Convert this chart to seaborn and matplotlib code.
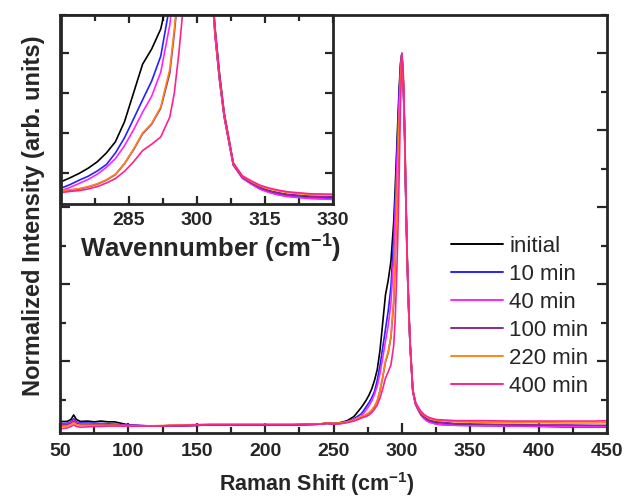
import numpy as np
import pandas as pd
import matplotlib
matplotlib.use("Agg")
import matplotlib.pyplot as plt
from matplotlib.ticker import MultipleLocator, NullFormatter
import seaborn as sns

# ---------------- data ----------------
wavenumber = [50, 55, 58, 60, 62, 65, 70, 75, 80, 85, 90, 95, 100,
              110, 120, 130, 140, 150, 160, 170, 180, 190, 200, 210, 220, 230, 240, 245,
              250, 255, 260, 265,
              270, 272, 274, 276, 278, 280, 282, 284, 286, 288, 290, 292, 294,
              295, 296, 297, 298, 299, 300, 301, 302, 303, 304, 305, 306,
              308, 310, 312, 314, 316, 318, 320, 325, 330,
              340, 360, 380, 400, 420, 440, 450]

initial = [0.043, 0.043, 0.048, 0.060, 0.048, 0.043, 0.044, 0.042, 0.044, 0.042, 0.042, 0.038, 0.034,
           0.032, 0.031, 0.032, 0.032, 0.033, 0.034, 0.034, 0.034, 0.034, 0.034, 0.034, 0.034, 0.035, 0.036, 0.039,
           0.038, 0.040, 0.045, 0.056,
           0.078, 0.088, 0.099, 0.112, 0.128, 0.150, 0.178, 0.228, 0.300, 0.372, 0.410, 0.460, 0.560,
           0.640, 0.730, 0.820, 0.910, 0.975, 1.000, 0.930, 0.800, 0.610, 0.460, 0.345, 0.250,
           0.125, 0.090, 0.075, 0.063, 0.055, 0.050, 0.046, 0.041, 0.040,
           0.036, 0.034, 0.032, 0.031, 0.030, 0.030, 0.030]

min10 = [0.038, 0.038, 0.042, 0.050, 0.042, 0.039, 0.039, 0.038, 0.038, 0.037, 0.036, 0.035, 0.033,
         0.032, 0.031, 0.032, 0.032, 0.033, 0.034, 0.034, 0.034, 0.034, 0.034, 0.034, 0.034, 0.035, 0.036, 0.038,
         0.037, 0.039, 0.043, 0.050,
         0.062, 0.071, 0.082, 0.092, 0.105, 0.121, 0.150, 0.188, 0.235, 0.283, 0.330, 0.392, 0.520,
         0.610, 0.700, 0.800, 0.890, 0.965, 1.000, 0.925, 0.790, 0.600, 0.445, 0.330, 0.240,
         0.120, 0.088, 0.073, 0.060, 0.052, 0.046, 0.042, 0.037, 0.035,
         0.033, 0.032, 0.031, 0.030, 0.029, 0.029, 0.029]

min40 = [0.035, 0.036, 0.040, 0.046, 0.040, 0.037, 0.037, 0.036, 0.036, 0.035, 0.035, 0.034, 0.033,
         0.032, 0.031, 0.032, 0.032, 0.033, 0.034, 0.034, 0.034, 0.034, 0.034, 0.034, 0.034, 0.035, 0.036, 0.038,
         0.037, 0.038, 0.042, 0.048,
         0.056, 0.064, 0.074, 0.084, 0.097, 0.114, 0.136, 0.168, 0.208, 0.252, 0.292, 0.352, 0.470,
         0.570, 0.670, 0.770, 0.870, 0.955, 1.000, 0.925, 0.790, 0.600, 0.440, 0.330, 0.240,
         0.120, 0.087, 0.072, 0.059, 0.051, 0.045, 0.041, 0.036, 0.034,
         0.033, 0.032, 0.031, 0.031, 0.030, 0.030, 0.030]

min100 = [0.033, 0.034, 0.038, 0.043, 0.038, 0.035, 0.035, 0.035, 0.035, 0.034, 0.034, 0.033, 0.032,
          0.031, 0.031, 0.032, 0.032, 0.033, 0.034, 0.034, 0.034, 0.034, 0.034, 0.034, 0.034, 0.035, 0.036, 0.038,
          0.037, 0.038, 0.041, 0.046,
          0.055, 0.057, 0.060, 0.065, 0.072, 0.082, 0.096, 0.123, 0.158, 0.198, 0.222, 0.262, 0.350,
          0.450, 0.570, 0.690, 0.810, 0.925, 1.000, 0.930, 0.795, 0.605, 0.445, 0.332, 0.242,
          0.122, 0.089, 0.075, 0.063, 0.055, 0.050, 0.046, 0.042, 0.040,
          0.037, 0.036, 0.035, 0.034, 0.034, 0.033, 0.033]

min220 = [0.030, 0.031, 0.035, 0.040, 0.035, 0.033, 0.033, 0.033, 0.033, 0.033, 0.033, 0.032, 0.032,
          0.031, 0.032, 0.033, 0.034, 0.035, 0.036, 0.036, 0.036, 0.036, 0.036, 0.036, 0.036, 0.037, 0.037, 0.039,
          0.038, 0.039, 0.042, 0.047,
          0.056, 0.058, 0.061, 0.066, 0.073, 0.083, 0.097, 0.124, 0.160, 0.200, 0.224, 0.265, 0.360,
          0.460, 0.580, 0.700, 0.820, 0.930, 1.000, 0.940, 0.810, 0.615, 0.450, 0.335, 0.245,
          0.124, 0.092, 0.078, 0.067, 0.060, 0.055, 0.051, 0.046, 0.045,
          0.042, 0.041, 0.040, 0.040, 0.039, 0.039, 0.040]

min400 = [0.024, 0.026, 0.030, 0.034, 0.030, 0.028, 0.029, 0.030, 0.030, 0.031, 0.031, 0.031, 0.031,
          0.031, 0.031, 0.032, 0.033, 0.034, 0.035, 0.035, 0.035, 0.035, 0.035, 0.035, 0.035, 0.036, 0.036, 0.038,
          0.036, 0.037, 0.040, 0.044,
          0.051, 0.054, 0.056, 0.060, 0.066, 0.075, 0.086, 0.104, 0.128, 0.156, 0.172, 0.190, 0.240,
          0.300, 0.400, 0.520, 0.680, 0.870, 1.000, 0.950, 0.820, 0.620, 0.455, 0.338, 0.248,
          0.125, 0.093, 0.080, 0.069, 0.062, 0.057, 0.053, 0.048, 0.047,
          0.045, 0.045, 0.044, 0.044, 0.044, 0.044, 0.045]

series_labels = ["initial", "10 min", "40 min", "100 min", "220 min", "400 min"]
series_values = [initial, min10, min40, min100, min220, min400]
series_colors = ["#000000", "#2222ff", "#ff22ff", "#8a2a8a", "#ff8418", "#ff2090"]

main_xticks = [50, 100, 150, 200, 250, 300, 350, 400, 450]
inset_xticks = [285, 300, 315, 330]

# ---------------- build table ----------------
frames = []
for lab, vals in zip(series_labels, series_values):
    frames.append(pd.DataFrame({"x": wavenumber, "y": vals, "series": lab}))
df = pd.concat(frames, ignore_index=True)
palette = dict(zip(series_labels, series_colors))

sns.set_style("ticks")
plt.rcParams['font.family'] = ['Liberation Sans', 'DejaVu Sans']
plt.rcParams['mathtext.fontset'] = 'custom'
plt.rcParams['mathtext.rm'] = 'Liberation Sans'
plt.rcParams['mathtext.bf'] = 'Liberation Sans:bold'


def style_ticklabels(axis_obj):
    for lbl in axis_obj.get_xticklabels():
        lbl.set_fontweight('bold')
        lbl.set_fontsize(14)
        lbl.set_stretch('condensed')


fig = plt.figure(figsize=(6.36, 5.0), dpi=100)
ax = fig.add_axes([60/636, 67/500, 547/636, 418/500])

sns.lineplot(data=df, x="x", y="y", hue="series", hue_order=series_labels,
             palette=palette, ax=ax, linewidth=1.2, sort=False, estimator=None)

ax.set_xlim(50, 450)
ax.set_ylim(0.013, 1.1)
ax.xaxis.set_major_locator(plt.FixedLocator(main_xticks))
ax.xaxis.set_minor_locator(MultipleLocator(25))
ax.yaxis.set_major_locator(MultipleLocator(0.2))
ax.yaxis.set_minor_locator(MultipleLocator(0.1))
ax.yaxis.set_major_formatter(NullFormatter())
ax.tick_params(axis='both', which='both', direction='in', width=1.6)
ax.tick_params(axis='both', which='major', length=7)
ax.tick_params(axis='both', which='minor', length=4)
ax.tick_params(axis='y', which='both', left=True, right=True)
ax.tick_params(axis='x', which='both', top=False, bottom=True, pad=7)
style_ticklabels(ax)
for sp in ax.spines.values():
    sp.set_linewidth(2.0)
    sp.set_visible(True)

ax.set_xlabel(r"Raman Shift (cm$^{\mathbf{-1}}$)", fontsize=15.5, fontweight='bold')
ax.xaxis.set_label_coords(0.47, -0.088)
ax.set_ylabel("Normalized Intensity (arb. units)", fontsize=17, fontweight='bold')
ax.yaxis.set_label_coords(-0.028, 0.52)

leg = ax.legend(loc='upper left', bbox_to_anchor=(0.715, 0.472), frameon=False,
                fontsize=16, handlelength=2.32, labelspacing=0.32, handletextpad=0.3,
                borderaxespad=0, borderpad=0)
for ln in leg.get_lines():
    ln.set_linewidth(1.4)

# ---------------- inset ----------------
axin = fig.add_axes([61/636, 296/500, 272/636, 189/500])
sns.lineplot(data=df, x="x", y="y", hue="series", hue_order=series_labels,
             palette=palette, ax=axin, linewidth=1.2, sort=False, estimator=None, legend=False)
axin.set_xlim(270, 330)
axin.set_ylim(0.0225, 0.495)
axin.xaxis.set_major_locator(plt.FixedLocator(inset_xticks))
axin.xaxis.set_minor_locator(MultipleLocator(7.5))
axin.yaxis.set_major_locator(MultipleLocator(0.1))
axin.yaxis.set_major_formatter(NullFormatter())
axin.tick_params(axis='both', which='both', direction='in', width=1.6,
                 top=True, right=True, left=True, bottom=True)
axin.tick_params(axis='both', which='major', length=6)
axin.tick_params(axis='both', which='minor', length=4)
axin.tick_params(axis='x', pad=6)
style_ticklabels(axin)
for sp in axin.spines.values():
    sp.set_linewidth(2.0)
axin.set_ylabel("")
axin.set_xlabel(r"Wavennumber (cm$^{\mathbf{-1}}$)", fontsize=18.5, fontweight='bold')
axin.xaxis.set_label_coords(0.55, -0.145)

fig.savefig("out.png", dpi=100)
